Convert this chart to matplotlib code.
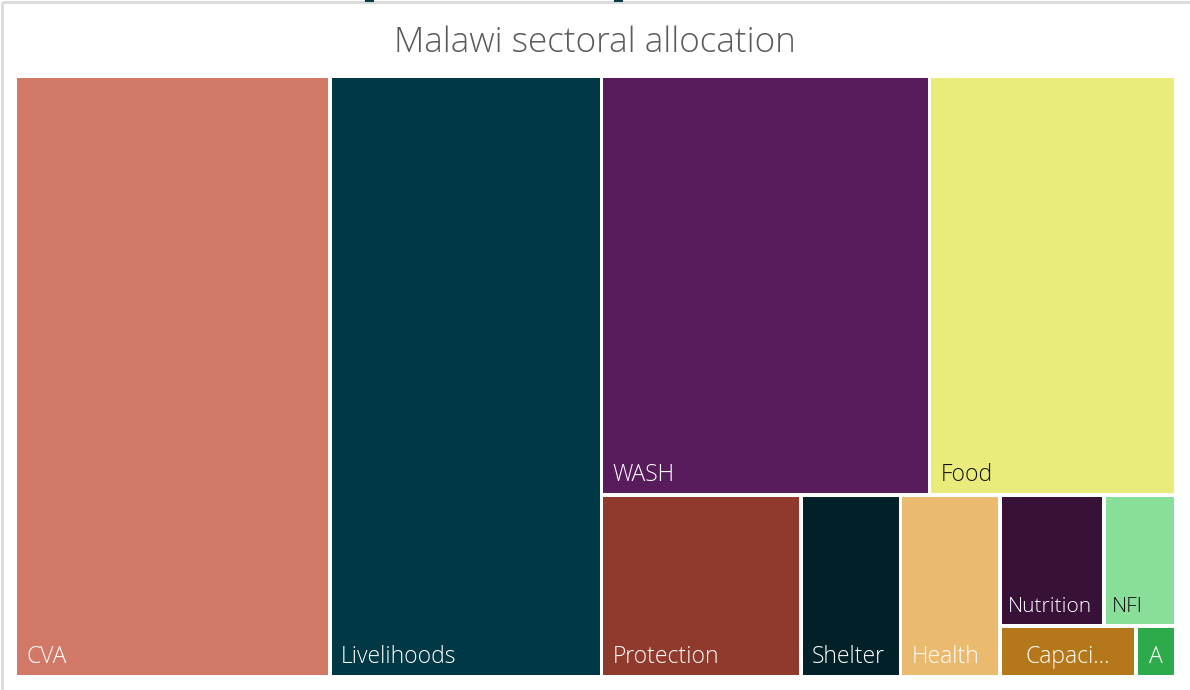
import matplotlib
matplotlib.use("Agg")
import matplotlib.pyplot as plt
from matplotlib import font_manager
from matplotlib.patches import Rectangle


# Share of the allocation by sector (%)
sectors = ["CVA", "Livelihoods", "WASH", "Food", "Protection", "Shelter",
           "Health", "Nutrition", "NFI", "Capaci...", "A"]
allocation_pct = [27.1, 23.4, 19.7, 14.8, 5.2, 2.6, 2.6, 1.95, 1.35, 0.99, 0.29]

SECTOR_COLORS = {
    "CVA": "#d17866", "Livelihoods": "#003845", "WASH": "#581c5c",
    "Food": "#e9ec7a", "Protection": "#8f3a2c", "Shelter": "#012129",
    "Health": "#eaba6e", "Nutrition": "#371138", "NFI": "#89df9a",
    "Capaci...": "#b4781a", "A": "#2daa49",
}
DARK_TEXT = {"Food", "NFI"}
SMALL_LABELS = {"Nutrition", "NFI"}
CENTERED_LABELS = {"Capaci...", "A"}

COLOR_TITLE = "#5a5a5a"
COLOR_FRAME = "#dcdcdc"

FIG_W, FIG_H = 1190, 690
GAP = 1.75          # half of the white gap between tiles
TALL_BIAS = 0.8     # <1 favours tall tiles when deciding where a row ends


def light_font_file():
    """Closest thing to Segoe UI Light that is installed, else None."""
    for family in ("Open Sans", "Roboto", "Noto Sans", "Inter", "Lato"):
        for entry in font_manager.fontManager.ttflist:
            name = entry.fname.lower().replace("_", "").replace("-", "")
            if entry.name != family or entry.style != "normal" or entry.stretch != "normal":
                continue
            if "light" in name and "extra" not in name and "cond" not in name \
                    and "semi" not in name and "narrow" not in name:
                return entry.fname
    return None


LIGHT_FILE = light_font_file()


def font(size):
    if LIGHT_FILE:
        return font_manager.FontProperties(fname=LIGHT_FILE, size=size)
    return font_manager.FontProperties(family="Lato", size=size)


def tile_score(w, h):
    return max(h / w * TALL_BIAS, w / h / TALL_BIAS)


def row_score(areas, side, vertical):
    thick = sum(areas) / side
    scores = []
    for a in areas:
        length = a / thick
        w, h = (thick, length) if vertical else (length, thick)
        scores.append(tile_score(w, h))
    return max(scores)


def squarify(values, x, y, w, h):
    """Squarified treemap: returns (x, y, w, h) per value, y grows downward."""
    total = sum(values)
    areas = [v * w * h / total for v in values]
    rects = []
    i = 0
    while i < len(areas):
        vertical = w >= h
        side = h if vertical else w
        row = [areas[i]]
        j = i + 1
        while j < len(areas) and row_score(row + [areas[j]], side, vertical) <= row_score(row, side, vertical):
            row.append(areas[j])
            j += 1
        thick = sum(row) / side
        pos = y if vertical else x
        for a in row:
            length = a / thick
            rects.append((x, pos, thick, length) if vertical else (pos, y, length, thick))
            pos += length
        if vertical:
            x, w = x + thick, w - thick
        else:
            y, h = y + thick, h - thick
        i = j
    return rects


fig = plt.figure(figsize=(FIG_W / 100, FIG_H / 100), dpi=100)
ax = fig.add_axes([0, 0, 1, 1])
ax.set_xlim(0, FIG_W)
ax.set_ylim(FIG_H, 0)
ax.axis("off")

# card frame (top and left edges) and the cut-off bits of the visual above
ax.plot([2, FIG_W], [2, 2], color=COLOR_FRAME, linewidth=2.2, solid_capstyle="butt")
ax.plot([2, 2], [2, FIG_H], color=COLOR_FRAME, linewidth=2.2, solid_capstyle="butt")
for x0 in (366, 615):
    ax.plot([x0, x0 + 7], [0.5, 0.5], color="#0b3b4a", linewidth=1.5)

rects = squarify(allocation_pct, 15.25, 76.25, 1160.5, 600.5)
for name, (x, y, w, h) in zip(sectors, rects):
    ax.add_patch(Rectangle((x + GAP, y + GAP), w - 2 * GAP, h - 2 * GAP,
                           facecolor=SECTOR_COLORS[name], edgecolor="none"))
    color = "#111111" if name in DARK_TEXT else "white"
    small = name in SMALL_LABELS
    if name in CENTERED_LABELS:
        tx, ha = x + w / 2, "center"
    else:
        tx, ha = x + GAP + (6 if small else 9.5), "left"
    ax.text(tx, y + h - GAP - 12, name, ha=ha, va="baseline", color=color,
            fontproperties=font(15 if small else 16.5))

fig.text(0.5, 1 - 43 / FIG_H, "Malawi sectoral allocation", ha="center", va="center",
         color=COLOR_TITLE, fontproperties=font(25.3))

fig.savefig("out.png", dpi=100)
